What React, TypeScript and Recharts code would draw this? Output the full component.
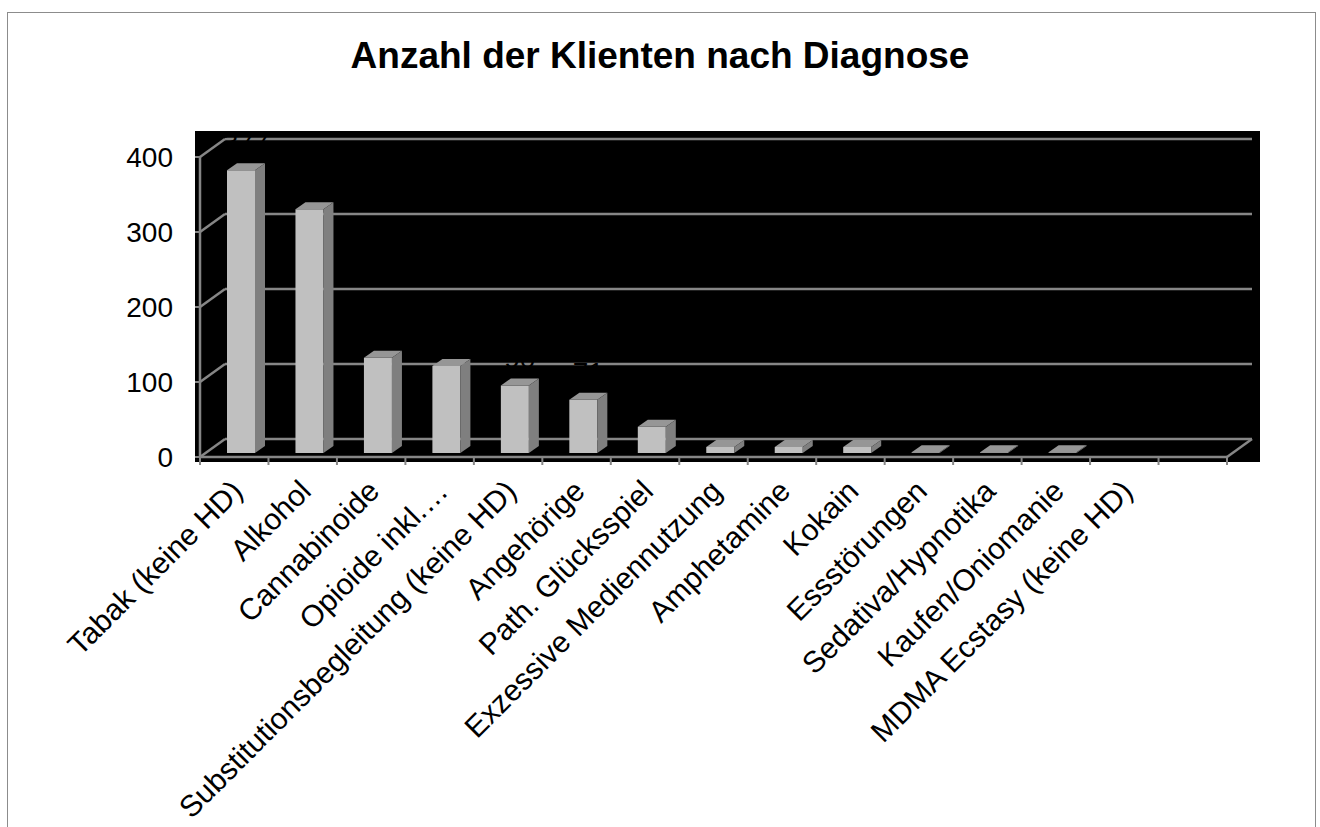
import { Bar, BarChart, CartesianGrid, LabelList, XAxis, YAxis } from "recharts";

const FONT = "'Liberation Sans', Arial, sans-serif";
const LINE = "#868686";

// Diagnoses (15th slot is empty in the source chart)
const categories = [
  "Tabak (keine HD)",
  "Alkohol",
  "Cannabinoide",
  "Opioide inkl.…",
  "Substitutionsbegleitung (keine HD)",
  "Angehörige",
  "Path. Glücksspiel",
  "Exzessive Mediennutzung",
  "Amphetamine",
  "Kokain",
  "Essstörungen",
  "Sedativa/Hypnotika",
  "Kaufen/Oniomanie",
  "MDMA Ecstasy (keine HD)",
  "",
];
const clients = [377, 325, 127, 116, 90, 71, 35, 8, 8, 8, 1, 1, 1, 0, 0];
const yTicks = [0, 100, 200, 300, 400];

const data = categories.map((name, i) => ({ name, value: clients[i] }));

// depth of the 3d frame (back wall offset) and of one column
const DX = 25;
const DY = 18;
const CX = 10;
const CY = 7;

function Column3D(props: any) {
  const { x, y, width, height, payload } = props;
  if (!payload || !payload.value) return null;
  const bx = x + 7;
  const by = y - 4;
  const w = width;
  const h = Math.max(height, 0);
  return (
    <g>
      <rect x={bx} y={by} width={w} height={h} fill="#c0c0c0" />
      <polygon
        points={`${bx},${by} ${bx + w},${by} ${bx + w + CX},${by - CY} ${bx + CX},${by - CY}`}
        fill="#969696"
      />
      <polygon
        points={`${bx + w},${by} ${bx + w + CX},${by - CY} ${bx + w + CX},${by + h - CY} ${bx + w},${by + h}`}
        fill="#7f7f7f"
      />
    </g>
  );
}

function ValueLabel(props: any) {
  const { x, y, width, value } = props;
  if (!value) return null;
  return (
    <text
      x={x + width / 2 + 12}
      y={y - 22}
      textAnchor="middle"
      fontSize={28}
      fontFamily={FONT}
      fill="#000"
    >
      {value}
    </text>
  );
}

function GridLine(props: any) {
  const { x1, x2, y1 } = props;
  return (
    <g key={`g-${y1}`}>
      <line x1={x1 + DX} x2={x2 + DX} y1={y1 - DY} y2={y1 - DY} stroke={LINE} strokeWidth={2.5} />
      <line x1={x1} x2={x1 + DX} y1={y1} y2={y1 - DY} stroke={LINE} strokeWidth={2.5} />
    </g>
  );
}

function CategoryTick(props: any) {
  const { x, y, payload, index } = props;
  const half = payload.offset ?? 34.2;
  const ax = x + 10;
  const ay = y + 36;
  const last = index === categories.length - 1;
  return (
    <g>
      {index === 0 && (
        <line x1={x - half} x2={x - half} y1={y} y2={y + 8} stroke={LINE} strokeWidth={2} />
      )}
      <line x1={x + half} x2={x + half} y1={y} y2={y + 8} stroke={LINE} strokeWidth={2} />
      {last && (
        <line x1={x + half} x2={x + half + DX} y1={y} y2={y - DY} stroke={LINE} strokeWidth={2.5} />
      )}
      <text
        x={ax}
        y={ay}
        transform={`rotate(-45, ${ax}, ${ay})`}
        textAnchor="end"
        fontSize={30}
        fontFamily={FONT}
        fill="#000"
      >
        {payload.value}
      </text>
    </g>
  );
}

export default function App() {
  return (
    <div
      style={{
        position: "absolute",
        left: 0,
        top: 0,
        width: 1320,
        height: 827,
        overflow: "hidden",
        background: "#fff",
      }}
    >
      <div
        style={{
          position: "absolute",
          left: 7,
          top: 12,
          width: 1307,
          height: 900,
          border: "1px solid #8c8c8c",
        }}
      />
      <div
        style={{
          position: "absolute",
          left: 0,
          top: 37,
          width: 1320,
          textAlign: "center",
          fontFamily: FONT,
          fontWeight: "bold",
          fontSize: 37,
          lineHeight: "37px",
        }}
      >
        Anzahl der Klienten nach Diagnose
      </div>
      <div
        style={{
          position: "absolute",
          left: 195,
          top: 131,
          width: 1065,
          height: 331,
          background: "#000",
        }}
      />
      <div style={{ position: "absolute", left: 0, top: 0 }}>
        <BarChart
          width={1320}
          height={827}
          data={data}
          margin={{ top: 157, right: 93, bottom: 0, left: 0 }}
          barSize={28}
        >
          <CartesianGrid vertical={false} horizontal={GridLine} />
          <XAxis
            dataKey="name"
            height={370}
            interval={0}
            tickLine={false}
            tickSize={0}
            tickMargin={0}
            axisLine={{ stroke: LINE, strokeWidth: 2.5 }}
            tick={<CategoryTick />}
          />
          <YAxis
            width={200}
            domain={[0, 400]}
            ticks={yTicks}
            tickSize={5}
            tickMargin={22}
            axisLine={{ stroke: LINE, strokeWidth: 2.5 }}
            tickLine={{ stroke: LINE, strokeWidth: 2 }}
            tick={{ fill: "#000", fontSize: 28, fontFamily: FONT }}
          />
          <Bar dataKey="value" shape={<Column3D />} isAnimationActive={false}>
            <LabelList dataKey="value" content={<ValueLabel />} />
          </Bar>
        </BarChart>
      </div>
    </div>
  );
}
